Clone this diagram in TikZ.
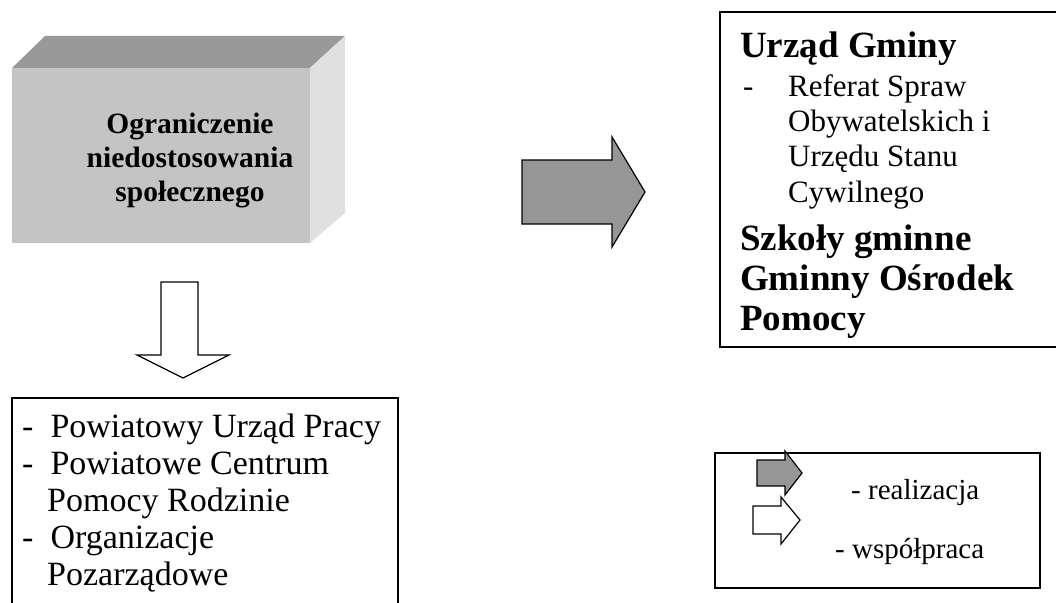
\documentclass[tikz,border=0pt]{standalone}
\usepackage{fontspec}
\setmainfont{Liberation Serif}
\definecolor{frontgray}{HTML}{C4C4C4}
\definecolor{topgray}{HTML}{999999}
\definecolor{sidegray}{HTML}{E0E0E0}
\definecolor{arrowgray}{HTML}{969696}
\tikzset{
  frame/.style={draw=black, line width=1.4pt},
  blockarrow/.style={draw=black, line width=1.2pt, line join=miter},
  reg/.style={anchor=base west, inner sep=0pt, font=\fontsize{31}{31}\selectfont},
  regb/.style={anchor=base west, inner sep=0pt, font=\fontsize{34}{34}\selectfont},
  regl/.style={anchor=base west, inner sep=0pt, font=\fontsize{29}{29}\selectfont},
  bld/.style={anchor=base west, inner sep=0pt, font=\fontsize{37}{37}\selectfont\bfseries},
}
\begin{document}
\begin{tikzpicture}[x=1pt,y=-1pt]
\useasboundingbox (0,0) rectangle (1056,602);
% cuboid
\fill[topgray] (12,68) -- (45,36) -- (345,36) -- (310,68) -- cycle;
\fill[sidegray] (310,68) -- (345,36) -- (345,213) -- (310,243) -- cycle;
\fill[frontgray] (12,68) rectangle (310,243);
\node[align=center, inner sep=0pt, font=\fontsize{29.5}{34}\selectfont\bfseries] (title) at (190,161)
  {Ograniczenie\\niedostosowania\\społecznego};
% gray arrow right
\draw[blockarrow, fill=arrowgray] (522,160) -- (612,160) -- (612,137) -- (645,192) -- (612,247) -- (612,224) -- (522,224) -- cycle;
% right box
\draw[frame] (1060,12) -- (720,12) -- (720,347) -- (1060,347);
\node[bld] (ug) at (740,57) {Urząd Gminy};
\node[reg] (d1) at (743,96) {-};
\node[reg] (r1) at (788,96) {Referat Spraw};
\node[reg] (r2) at (788,131) {Obywatelskich i};
\node[reg] (r3) at (788,166) {Urzędu Stanu};
\node[reg] (r4) at (788,202) {Cywilnego};
\node[bld] (sg) at (740,250) {Szkoły gminne};
\node[bld] (go) at (740,290) {Gminny Ośrodek};
\node[bld] (gp) at (740,330) {Pomocy};
% down hollow arrow
\draw[blockarrow, fill=white] (161,282) -- (198,282) -- (198,355) -- (229,355) -- (183,378) -- (137,355) -- (161,355) -- cycle;
% bottom-left box
\draw[frame] (12,606) -- (12,398) -- (398,398) -- (398,606);
\node[regb] (b1) at (22,437) {-\ \ Powiatowy Urząd Pracy};
\node[regb] (b2) at (22,474) {-\ \ Powiatowe Centrum};
\node[regb] (b3) at (47,511) {Pomocy Rodzinie};
\node[regb] (b4) at (22,548) {-\ \ Organizacje};
\node[regb] (b5) at (47,585) {Pozarządowe};
% legend
\draw[frame] (715,453) rectangle (1040,588);
\draw[blockarrow, fill=arrowgray] (757,460) -- (785,460) -- (785,451) -- (802,473) -- (785,495) -- (785,486) -- (757,486) -- cycle;
\draw[blockarrow, fill=white] (753,506) -- (781,506) -- (781,497) -- (800,520) -- (781,544) -- (781,534) -- (753,534) -- cycle;
\node[regl] (l1) at (851,499) {- realizacja};
\node[regl] (l2) at (835,558) {- współpraca};
\end{tikzpicture}
\end{document}
